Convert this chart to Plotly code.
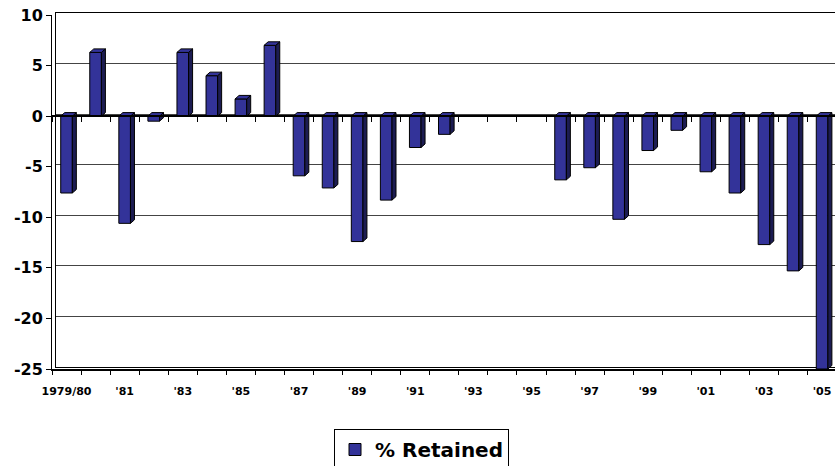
import plotly.graph_objects as go

# Season labels, one per column
seasons = ["1979/80", "'80", "'81", "'82", "'83", "'84", "'85", "'86", "'87",
           "'88", "'89", "'90", "'91", "'92", "'93", "'94", "'95", "'96",
           "'97", "'98", "'99", "'00", "'01", "'02", "'03", "'04", "'05"]

# % Retained per season (no value for '93-'95)
retained = [-7.6, 6.3, -10.6, -0.5, 6.3, 4.0, 1.7, 7.0, -5.9,
            -7.1, -12.4, -8.3, -3.1, -1.8, None, None, None, -6.3,
            -5.1, -10.2, -3.4, -1.4, -5.5, -7.6, -12.7, -15.3, -25.0]

y_ticks = [10, 5, 0, -5, -10, -15, -20, -25]
y_tick_text = ["10", "5", "0", "-5", "-10", "-15", "-20", "-25"]

FRONT = "#333399"
SIDE = "#1c1c52"
FONT = "DejaVu Sans"

W, H = 835, 466
ML, MR, MT, MB = 52, 0, 13, 97
plot_w = W - ML - MR
plot_h = H - MT - MB
px_per_cat = 29.06
wall_dx, wall_dy = 4, 2          # back-wall offset of the 3D frame (px)

y_range = [-25, 10]
x_range = [-0.5, -0.5 + plot_w / px_per_cat]

bar_w = 0.4                       # front face width (category units)
depth_x = wall_dx / px_per_cat    # side face depth (category units)
depth_y = 0.35                    # top face rise (value units)

pos = list(range(len(seasons)))
bounds = [p - 0.5 for p in pos] + [pos[-1] + 0.5]

# 3D side and top faces built from the bar values
side_x, side_y, top_x, top_y = [], [], [], []
for p, v in zip(pos, retained):
    if v is None:
        continue
    x0, x1 = p - bar_w / 2, p + bar_w / 2
    side_x += [x1, x1, x1 + depth_x, x1 + depth_x, x1, None]
    side_y += [0, v, v + depth_y, depth_y, 0, None]
    t = v if v > 0 else 0
    top_x += [x0, x1, x1 + depth_x, x0 + depth_x, x0, None]
    top_y += [t, t, t + depth_y, t + depth_y, t, None]

fig = go.Figure()

# back wall grid (its own subplot, shifted up/right)
fig.add_trace(go.Scatter(x=[], y=[], xaxis="x", yaxis="y",
                         showlegend=False, hoverinfo="skip"))

fig.add_trace(go.Bar(
    x=pos, y=retained, width=bar_w, name="% Retained",
    marker=dict(color=FRONT, line=dict(color="black", width=1)),
    xaxis="x2", yaxis="y2", hoverinfo="skip",
))
fig.add_trace(go.Scatter(
    x=side_x, y=side_y, mode="lines", fill="toself", fillcolor=SIDE,
    line=dict(color="black", width=1), xaxis="x2", yaxis="y2",
    showlegend=False, hoverinfo="skip",
))
fig.add_trace(go.Scatter(
    x=top_x, y=top_y, mode="lines", fill="toself", fillcolor=FRONT,
    line=dict(color="black", width=1), xaxis="x2", yaxis="y2",
    showlegend=False, hoverinfo="skip",
))
for ax in ("x3", "x4"):
    fig.add_trace(go.Scatter(x=[], y=[], xaxis=ax, yaxis="y2",
                             showlegend=False, hoverinfo="skip"))

dom_b_top = 1 - wall_dy / plot_h
zero_pos = dom_b_top * (0 - y_range[0]) / (y_range[1] - y_range[0])

fig.update_layout(
    width=W, height=H,
    margin=dict(l=ML, r=MR, t=MT, b=MB, pad=0),
    paper_bgcolor="white", plot_bgcolor="rgba(0,0,0,0)",
    showlegend=True,
    legend=dict(
        xref="container", yref="container",
        x=334 / W, xanchor="left", y=1 - 429 / H, yanchor="top",
        orientation="h", bordercolor="black", borderwidth=1,
        font=dict(family=FONT, size=20, color="black", weight="bold"),
        bgcolor="white",
    ),
    # back wall
    xaxis=dict(domain=[wall_dx / plot_w, 1], anchor="y", range=x_range,
               showline=True, mirror=True, linecolor="black", linewidth=1,
               showgrid=False, zeroline=False, showticklabels=False, ticks=""),
    yaxis=dict(domain=[wall_dy / plot_h, 1], anchor="x", range=y_range,
               tickvals=y_ticks, showgrid=True, gridcolor="#444", gridwidth=1,
               showline=True, linecolor="black", linewidth=1,
               zeroline=False, showticklabels=False, ticks=""),
    # front axes
    xaxis2=dict(domain=[0, 1], anchor="y2", range=x_range,
                tickvals=pos[0::2], ticktext=seasons[0::2],
                ticks="outside", ticklen=11, tickcolor="rgba(0,0,0,0)",
                showline=True, linecolor="black", linewidth=2,
                showgrid=False, zeroline=False,
                tickfont=dict(family=FONT, size=11, color="black", weight="bold")),
    yaxis2=dict(domain=[0, dom_b_top], anchor="x2", range=y_range,
                tickvals=y_ticks, ticktext=y_tick_text,
                ticks="outside", ticklen=5, tickcolor="black",
                showline=True, linecolor="black", linewidth=1,
                showgrid=False, zeroline=False,
                tickfont=dict(family=FONT, size=16, color="black", weight="bold")),
    # category axis at zero
    xaxis3=dict(overlaying="x2", anchor="free", position=zero_pos, range=x_range,
                tickvals=bounds, ticks="outside", ticklen=5, tickcolor="black",
                showline=True, linecolor="black", linewidth=1.5,
                showgrid=False, zeroline=False, showticklabels=False),
    # category boundary ticks on the floor
    xaxis4=dict(overlaying="x2", anchor="y2", range=x_range,
                tickvals=bounds, ticks="outside", ticklen=5, tickcolor="black",
                showline=False, showgrid=False, zeroline=False,
                showticklabels=False),
)

fig.write_html("out.html")
